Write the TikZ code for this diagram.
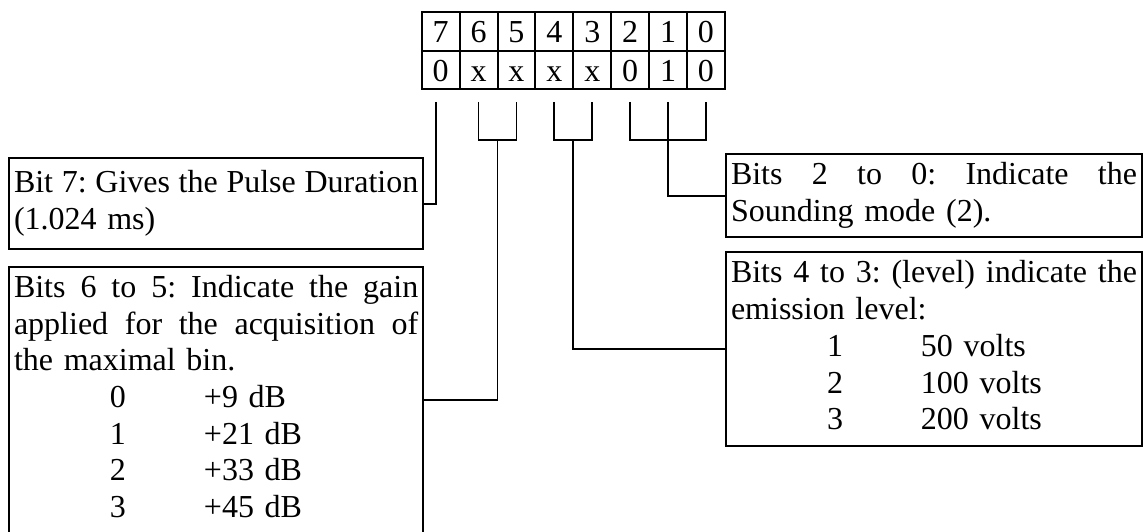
\documentclass[tikz,border=0pt]{standalone}
\usepackage{fontspec}
\setmainfont{Liberation Serif}
\frenchspacing
\newcommand{\bigfont}{\fontsize{32pt}{36.7pt}\selectfont\frenchspacing}
\newcommand{\spreadline}[2]{\noindent\hbox to #1{\spaceskip=0.25em plus 1fil\relax\xspaceskip=\spaceskip\strut #2}\par}
\newcommand{\trow}[2]{\strut\hspace*{96pt}\makebox[94pt][l]{#1}#2}
\tikzset{
  cell/.style={draw, line width=2pt, minimum width=37.9pt, minimum height=38.7pt,
    inner sep=0pt, outer sep=0pt, text height=22pt, text depth=0pt, font=\bigfont},
  infobox/.style={draw, line width=2pt, anchor=north west, inner xsep=5pt,
    inner ysep=5pt, outer sep=0pt, font=\bigfont},
  conn/.style={draw, line width=1.8pt}
}
\begin{document}
\begin{tikzpicture}[x=1pt,y=-1pt]
\useasboundingbox (0,0) rectangle (1143,531);
% register table
\foreach \b/\v [count=\k from 0] in {7/0,6/x,5/x,4/x,3/x,2/0,1/1,0/0} {
  \node[cell] (t\b) at ({440.65+\k*37.9},31.35) {\b};
  \node[cell] (v\b) at ({440.65+\k*37.9},70.0) {\v};
}
% description boxes
\node[infobox, text width=404.3pt, minimum height=90.7pt] (B7) at (9,158.3)
  {\spreadline{404.3pt}{Bit 7: Gives the Pulse Duration}\strut(1.024 ms)};
\node[infobox, text width=404.3pt] (B65) at (9,266.7)
  {\spreadline{404.3pt}{Bits 6 to 5: Indicate the gain}\spreadline{404.3pt}{applied for the acquisition of}\strut the maximal bin.\par
   \trow{0}{+9 dB}\par\trow{1}{+21 dB}\par\trow{2}{+33 dB}\par\trow{3}{+45 dB}};
\node[infobox, text width=406pt] (B20) at (726,154)
  {\spreadline{406pt}{Bits 2 to 0: Indicate the}\strut Sounding mode (2).};
\node[infobox, text width=406pt] (B43) at (726,252.3)
  {\spreadline{406pt}{Bits 4 to 3: (level) indicate the}\strut emission level:\par
   \trow{1}{50 volts}\par\trow{2}{100 volts}\par\trow{3}{200 volts}};
% connector end points
\coordinate (a7) at ([xshift=-4.6pt,yshift=-12.4pt]v7.south);
\foreach \b in {6,5,4,3,2,1,0} { \coordinate (a\b) at ([yshift=-12.4pt]v\b.south); }
\coordinate (j65) at ([yshift=-50.7pt]v6.south east);
\coordinate (j43) at ([yshift=-50.7pt]v4.south east);
\coordinate (j20) at ([yshift=-50.7pt]v1.south);
% connectors
\draw[conn] (a7) |- (B7.east);
\draw[conn] (a6) |- (j65) -| (a5);
\draw[conn] (j65) |- (B65.east);
\draw[conn] (a4) |- (j43) -| (a3);
\draw[conn] (j43) |- (B43.west);
\draw[conn] (a2) |- (j20) -| (a0);
\draw[conn] (a1) |- (B20.west);
\end{tikzpicture}
\end{document}
